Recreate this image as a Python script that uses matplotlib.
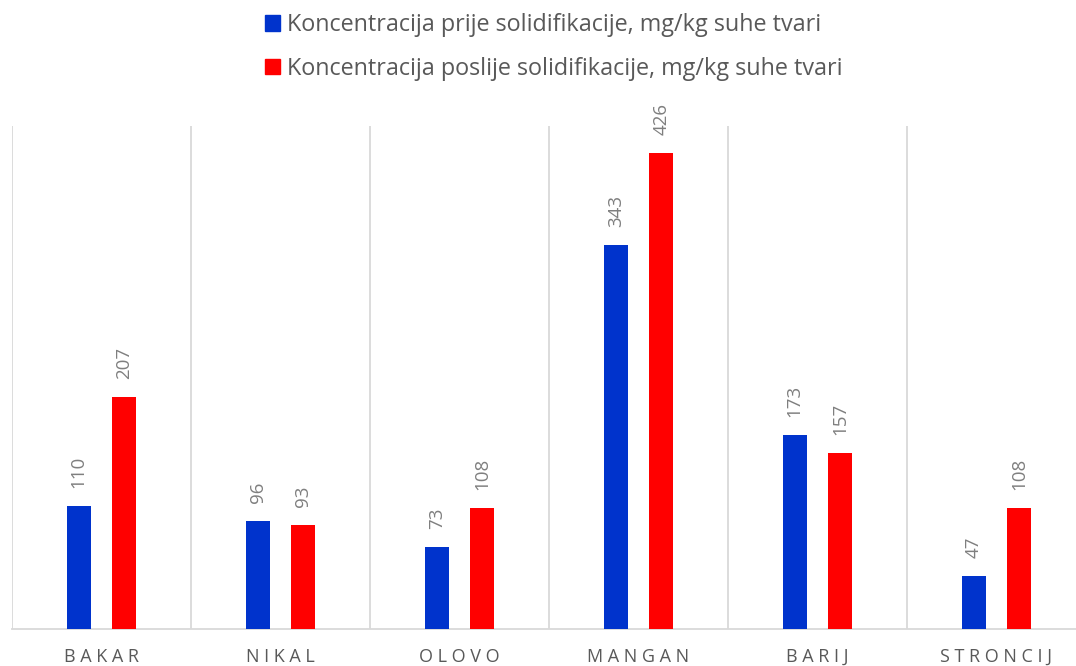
import matplotlib.pyplot as plt
import numpy as np
from matplotlib.patches import Patch

plt.rcParams['font.family'] = ['Open Sans', 'DejaVu Sans']

categories = ['BAKAR', 'NIKAL', 'OLOVO', 'MANGAN', 'BARIJ', 'STRONCIJ']
before = [110, 96, 73, 343, 173, 47]
after = [207, 93, 108, 426, 157, 108]
series_names = ['Koncentracija prije solidifikacije, mg/kg suhe tvari',
                'Koncentracija poslije solidifikacije, mg/kg suhe tvari']
colors = ['#0033CC', '#FF0000']

W, H = 1076, 666
fig = plt.figure(figsize=(W / 100, H / 100), dpi=100)
ax = fig.add_axes([12 / W, (H - 628.5) / H, (W - 12) / W, (628.5 - 126) / H])

x = np.arange(len(categories))
width = 0.135
offset = 0.127
for vals, sign, color in [(before, -1, colors[0]), (after, 1, colors[1])]:
    bars = ax.bar(x + sign * offset, vals, width, color=color, zorder=3)
    for b, v in zip(bars, vals):
        ax.annotate(str(v), (b.get_x() + b.get_width() / 2, v),
                    xytext=(0, 13), textcoords='offset points',
                    rotation=90, ha='center', va='bottom',
                    fontsize=13.5, color='#7f7f7f')

# category separators
for s in np.arange(-0.5, len(categories), 1.0):
    ax.axvline(s, color='#d9d9d9', lw=1.3, zorder=1)

ax.set_ylim(0, 450)
ax.set_xlim(-0.5, len(categories) - 0.5 - 10 / 179)
ax.set_yticks([])
ax.set_xticks(x)
ax.set_xticklabels([' '.join(c) for c in categories], fontsize=13, color='#595959')
ax.tick_params(axis='x', length=0, pad=14)
for side in ['top', 'right', 'left']:
    ax.spines[side].set_visible(False)
ax.spines['bottom'].set_color('#d9d9d9')
ax.spines['bottom'].set_linewidth(1.3)

handles = [Patch(color=c) for c in colors]
leg = fig.legend(handles, series_names, loc='upper center',
                 bbox_to_anchor=(0.515, 1.012), frameon=False, fontsize=16.8,
                 handlelength=0.65, handleheight=0.65, handletextpad=0.3,
                 labelspacing=0.85, labelcolor='#595959')

fig.savefig('out.png', dpi=100)
